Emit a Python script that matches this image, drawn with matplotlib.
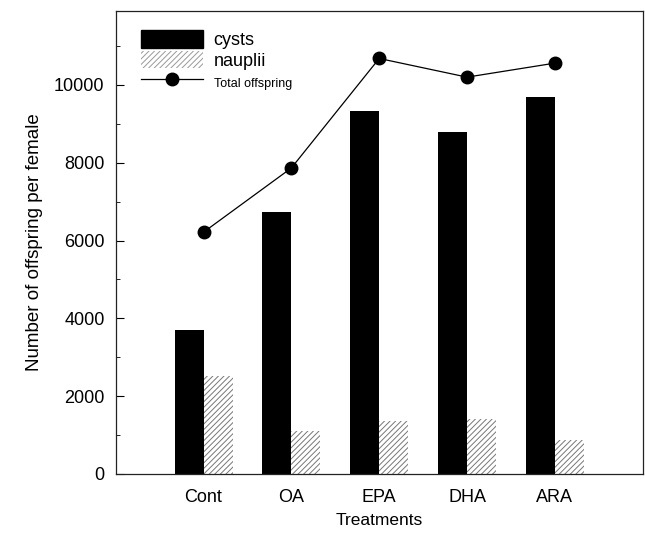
import numpy as np
import matplotlib.pyplot as plt
from matplotlib.patches import Patch
from matplotlib.lines import Line2D

plt.rcParams['font.family'] = ['Liberation Sans', 'DejaVu Sans']
plt.rcParams['hatch.linewidth'] = 0.7
plt.rcParams['hatch.color'] = '#555555'

treatments = ['Cont', 'OA', 'EPA', 'DHA', 'ARA']
cysts = [3700, 6745, 9330, 8785, 9685]
nauplii = [2520, 1105, 1355, 1405, 875]
total = [6215, 7865, 10680, 10200, 10560]

x = np.arange(1, len(treatments) + 1)
w = 0.33

fig = plt.figure(figsize=(6.45, 5.34), dpi=100)
ax = fig.add_axes([0.1794, 0.1124, 0.8170, 0.8670])

ax.bar(x - w/2, cysts, w, color='black', label='cysts')
ax.bar(x + w/2, nauplii, w, color='white', edgecolor='#777777',
       hatch='//////', linewidth=0, label='nauplii')
ax.plot(x, total, color='black', lw=0.9, marker='o', ms=9, label='Total offspring')

ax.set_xlim(0, 6)
ax.set_ylim(0, 11900)
ax.set_xticks(x)
ax.set_xticklabels(treatments, fontsize=13)
ax.set_yticks(np.arange(0, 10001, 2000))
ax.set_yticks(np.arange(0, 11001, 1000), minor=True)
ax.tick_params(axis='y', direction='in', length=6, width=0.8, labelsize=13, pad=8)
ax.tick_params(axis='y', which='minor', direction='in', length=3, width=0.6)
ax.tick_params(axis='x', length=0, pad=11)
for s in ax.spines.values():
    s.set_linewidth(0.9)
    s.set_color('#222222')

ax.set_ylabel('Number of offspring per female', fontsize=13.5, labelpad=8)
ax.set_xlabel('Treatments', fontsize=12.5, labelpad=5)

handles = [Patch(facecolor='black', edgecolor='black'),
           Patch(facecolor='white', edgecolor='#999999', hatch='//////', linewidth=0),
           Line2D([0], [0], color='black', lw=0.9, marker='o', ms=9)]
leg = ax.legend(handles, ['cysts', 'nauplii', 'Total offspring'], loc='upper left',
                bbox_to_anchor=(0.018, 0.993), frameon=False, fontsize=13,
                handlelength=3.4, handleheight=1.1, labelspacing=0.1, handletextpad=0.6)
leg.get_texts()[2].set_fontsize(9)

fig.savefig('out.png', dpi=100)
